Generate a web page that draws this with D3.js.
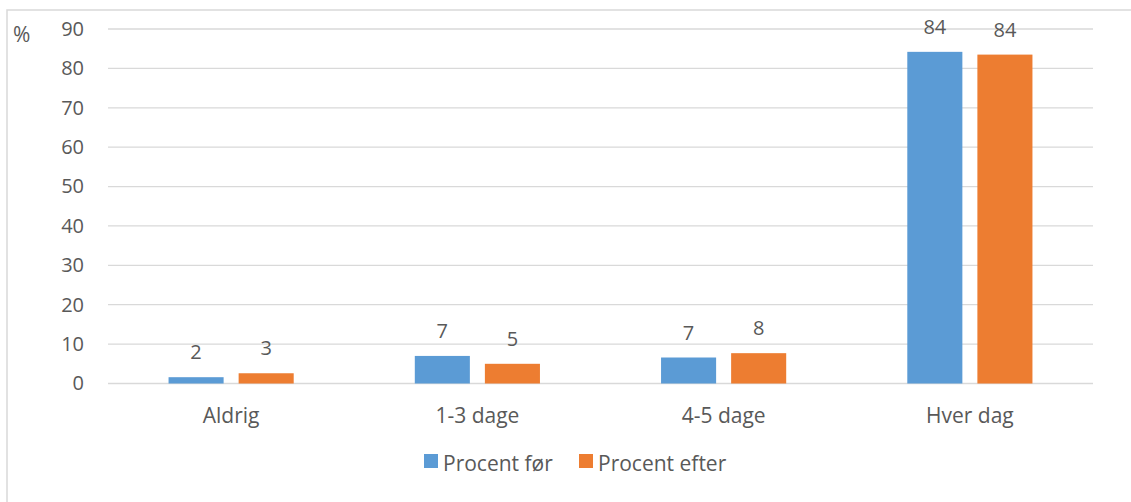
<!DOCTYPE html>
<html>
<head>
<meta charset="utf-8">
<script src="https://cdn.jsdelivr.net/npm/d3@7"></script>
<style>
  html, body { margin: 0; padding: 0; background: #fff; }
  svg text { font-family: "Open Sans", "Noto Sans", sans-serif; fill: #595959; }
</style>
</head>
<body>
<svg id="chart" width="1131" height="502"></svg>
<script>
// Days per week – share of respondents before and after
const categories = ["Aldrig", "1-3 dage", "4-5 dage", "Hver dag"];
const seriesNames = ["Procent før", "Procent efter"];
const valuesBefore = [1.6, 7.0, 6.6, 84.2];
const valuesAfter = [2.6, 5.0, 7.7, 83.5];
const yTicks = [0, 10, 20, 30, 40, 50, 60, 70, 80, 90];
const colors = ["#5B9BD5", "#ED7D31"];

const svg = d3.select("#chart");
const W = 1131, H = 502;
const plot = { left: 108, right: 1093, top: 29, bottom: 383.5 };
const FONT = "Open Sans, Noto Sans, sans-serif";

// outer frame
svg.append("rect")
  .attr("x", 7).attr("y", 10)
  .attr("width", W + 20).attr("height", H + 20)
  .attr("fill", "none").attr("stroke", "#d9d9d9").attr("stroke-width", 1.5);

const x0 = d3.scaleBand().domain(categories).range([plot.left, plot.right]);
const x1 = d3.scaleBand().domain(seriesNames).range([0, x0.bandwidth()])
  .paddingInner(15 / 70).paddingOuter(0.864);
const y = d3.scaleLinear().domain([0, 90]).range([plot.bottom, plot.top]);

// gridlines
svg.append("g").selectAll("line").data(yTicks).join("line")
  .attr("x1", plot.left).attr("x2", plot.right)
  .attr("y1", d => y(d)).attr("y2", d => y(d))
  .attr("stroke", "#d9d9d9").attr("stroke-width", 1.3);

// y axis labels
const yAxis = svg.append("g")
  .attr("transform", `translate(${plot.left},0)`)
  .call(d3.axisLeft(y).tickValues(yTicks).tickSize(0).tickPadding(24));
yAxis.select(".domain").remove();
yAxis.selectAll("text").attr("font-size", 20).attr("fill", "#595959")
  .attr("font-family", FONT);

svg.append("text").attr("x", 13).attr("y", 42).attr("font-size", 21).text("%");

// x axis labels
const xAxis = svg.append("g")
  .attr("transform", `translate(0,${plot.bottom})`)
  .call(d3.axisBottom(x0).tickSize(0).tickPadding(25));
xAxis.select(".domain").remove();
xAxis.selectAll("text").attr("font-size", 21).attr("fill", "#595959")
  .attr("font-family", FONT);

const rows = categories.map((c, i) => ({
  cat: c,
  vals: [
    { s: seriesNames[0], v: valuesBefore[i], c: colors[0] },
    { s: seriesNames[1], v: valuesAfter[i], c: colors[1] }
  ]
}));

const groups = svg.append("g").selectAll("g").data(rows).join("g")
  .attr("transform", d => `translate(${x0(d.cat)},0)`);

groups.selectAll("rect").data(d => d.vals).join("rect")
  .attr("x", d => x1(d.s))
  .attr("width", x1.bandwidth())
  .attr("y", d => y(d.v))
  .attr("height", d => y(0) - y(d.v))
  .attr("fill", d => d.c);

groups.selectAll("text.val").data(d => d.vals).join("text")
  .attr("class", "val")
  .attr("x", d => x1(d.s) + x1.bandwidth() / 2)
  .attr("y", d => y(d.v) - 18)
  .attr("text-anchor", "middle")
  .attr("font-size", 20)
  .attr("fill", "#404040")
  .text(d => d3.format(".0f")(d.v));

// legend
const legendX = [424, 579];
const legend = svg.append("g").selectAll("g").data(seriesNames).join("g")
  .attr("transform", (d, i) => `translate(${legendX[i]},454)`);
legend.append("rect").attr("width", 14).attr("height", 14)
  .attr("fill", (d, i) => colors[i]);
legend.append("text").attr("x", 19).attr("y", 17)
  .attr("font-size", 21).text(d => d);
</script>
</body>
</html>
